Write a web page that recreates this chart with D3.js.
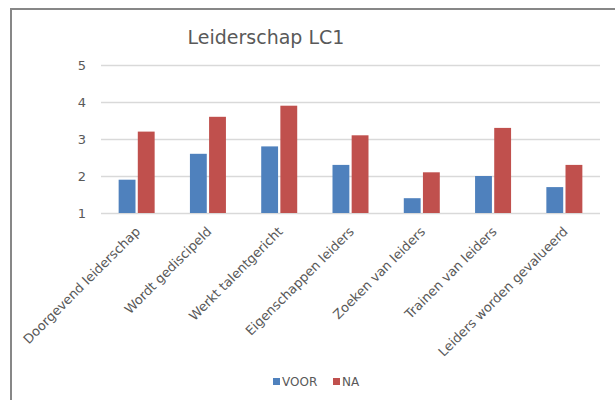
<!DOCTYPE html>
<html>
<head>
<meta charset="utf-8">
<script src="https://cdn.jsdelivr.net/npm/d3@7"></script>
<style>
  body { margin: 0; background: #fff; }
  text { font-family: "DejaVu Sans", Verdana, sans-serif; fill: #595959; }
</style>
</head>
<body>
<div id="chart"></div>
<script>
var categories = ["Doorgevend leiderschap", "Wordt gediscipeld", "Werkt talentgericht", "Eigenschappen leiders",
    "Zoeken van leiders", "Trainen van leiders", "Leiders worden gevalueerd"];
var voor = [1.9, 2.6, 2.8, 2.3, 1.4, 2.0, 1.7];
var na = [3.2, 3.6, 3.9, 3.1, 2.1, 3.3, 2.3];
var seriesNames = ["VOOR", "NA"];
var yTicks = [1, 2, 3, 4, 5];
var colors = ["#4f81bd", "#c0504d"];

var width = 615, height = 400;
var margin = { top: 65, right: 15, bottom: 187, left: 101 };

var svg = d3.select("#chart").append("svg")
    .attr("width", width)
    .attr("height", height);

// chart border (only left and top visible)
svg.append("path")
    .attr("d", "M11," + height + " V9 H" + width)
    .attr("fill", "none")
    .attr("stroke", "#878787")
    .attr("stroke-width", 2);

svg.append("text")
    .attr("x", 266)
    .attr("y", 44)
    .attr("text-anchor", "middle")
    .style("font-size", "19px")
    .text("Leiderschap LC1");

var x = d3.scaleBand()
    .domain(categories)
    .range([margin.left, width - margin.right]);

var xInner = d3.scaleBand()
    .domain(seriesNames)
    .range([0, 36])
    .paddingInner(0.12);

var y = d3.scaleLinear()
    .domain([1, 5])
    .range([height - margin.bottom, margin.top]);

// gridlines
svg.append("g")
    .selectAll("line")
    .data(yTicks)
    .join("line")
    .attr("x1", margin.left)
    .attr("x2", width - margin.right)
    .attr("y1", function(d) { return Math.round(y(d)) + 0.5; })
    .attr("y2", function(d) { return Math.round(y(d)) + 0.5; })
    .attr("stroke", "#d9d9d9")
    .attr("stroke-width", 1.5);

var yAxis = svg.append("g")
    .attr("transform", "translate(" + (margin.left - 12) + ",0)")
    .call(d3.axisLeft(y).tickValues(yTicks).tickSize(0).tickFormat(d3.format("d")));
yAxis.select(".domain").remove();
yAxis.selectAll("text")
    .style("font-size", "13px")
    .style("fill", "#595959")
    .style("font-family", "DejaVu Sans, Verdana, sans-serif");

// bars
var rows = categories.map(function(c, i) {
    return { cat: c, values: [voor[i], na[i]] };
});

var groups = svg.append("g")
    .selectAll("g")
    .data(rows)
    .join("g")
    .attr("transform", function(d) {
        return "translate(" + (x(d.cat) + x.bandwidth() / 2 - 18) + ",0)";
    });

groups.selectAll("rect")
    .data(function(d) {
        return d.values.map(function(v, j) { return { name: seriesNames[j], value: v, idx: j }; });
    })
    .join("rect")
    .attr("x", function(d) { return xInner(d.name); })
    .attr("width", xInner.bandwidth())
    .attr("y", function(d) { return y(d.value); })
    .attr("height", function(d) { return y(1) - y(d.value); })
    .attr("fill", function(d) { return colors[d.idx]; });

// category labels, rotated
var xAxis = svg.append("g")
    .attr("transform", "translate(0," + (y(1) + 6) + ")")
    .call(d3.axisBottom(x).tickSize(0));
xAxis.select(".domain").remove();
xAxis.selectAll("text")
    .style("font-size", "13px")
    .style("fill", "#595959")
    .style("font-family", "DejaVu Sans, Verdana, sans-serif")
    .attr("text-anchor", "end")
    .attr("dy", "0.35em")
    .attr("transform", "translate(-1,8) rotate(-45)");

// legend
var legend = svg.append("g")
    .selectAll("g")
    .data(seriesNames)
    .join("g")
    .attr("transform", function(d, i) { return "translate(" + (273 + i * 60) + ",378)"; });

legend.append("rect")
    .attr("width", 7)
    .attr("height", 7)
    .attr("fill", function(d, i) { return colors[i]; });

legend.append("text")
    .attr("x", 9)
    .attr("y", 8)
    .style("font-size", "12px")
    .text(function(d) { return d; });
</script>
</body>
</html>
